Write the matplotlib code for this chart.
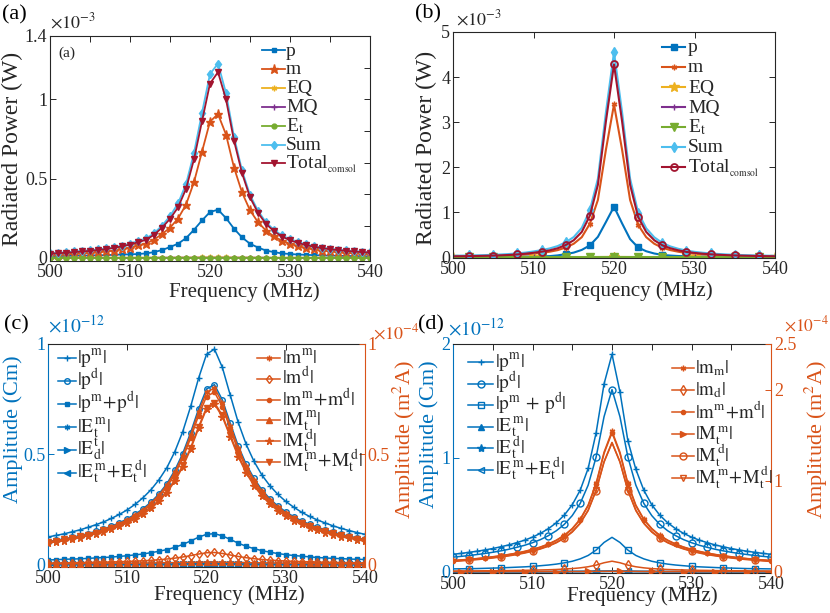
import matplotlib
matplotlib.use('Agg')
import matplotlib.pyplot as plt
from matplotlib.lines import Line2D
from matplotlib.ticker import FuncFormatter

plt.rcParams['font.family'] = ['Liberation Serif', 'DejaVu Serif']
plt.rcParams['mathtext.fontset'] = 'stix'
plt.rcParams['xtick.direction'] = 'in'
plt.rcParams['ytick.direction'] = 'in'
plt.rcParams['axes.linewidth'] = 0.8

# ---------------- data ----------------
freq = [500, 501, 502, 503, 504, 505, 506, 507, 508, 509, 510, 511, 512, 513, 514, 515, 516, 517, 518, 519, 520,
        521, 522, 523, 524, 525, 526, 527, 528, 529, 530, 531, 532, 533, 534, 535, 536, 537, 538, 539, 540]

# panel (a), radiated power x1e-3 W
p_a = [0.010, 0.011, 0.012, 0.013, 0.014, 0.015, 0.016, 0.017, 0.019, 0.021, 0.022, 0.024, 0.028, 0.036, 0.049, 0.068, 0.089, 0.124, 0.177, 0.236, 0.289,
       0.304, 0.251, 0.184, 0.129, 0.089, 0.065, 0.046, 0.036, 0.028, 0.024, 0.021, 0.019, 0.017, 0.015, 0.014, 0.013, 0.012, 0.011, 0.010, 0.010]
m_a = [0.018, 0.020, 0.022, 0.025, 0.028, 0.031, 0.035, 0.040, 0.046, 0.054, 0.065, 0.078, 0.090, 0.115, 0.150, 0.190, 0.248, 0.335, 0.478, 0.670, 0.860,
       0.907, 0.778, 0.570, 0.413, 0.300, 0.225, 0.172, 0.135, 0.108, 0.089, 0.074, 0.062, 0.053, 0.046, 0.040, 0.035, 0.031, 0.028, 0.025, 0.022]
eq_a = [0.001, 0.001, 0.001, 0.001, 0.001, 0.001, 0.001, 0.001, 0.001, 0.001, 0.001, 0.001, 0.001, 0.001, 0.001, 0.001, 0.002, 0.002, 0.002, 0.003, 0.003,
        0.003, 0.003, 0.002, 0.002, 0.002, 0.001, 0.001, 0.001, 0.001, 0.001, 0.001, 0.001, 0.001, 0.001, 0.001, 0.001, 0.001, 0.001, 0.001, 0.001]
mq_a = [0.000, 0.000, 0.000, 0.000, 0.000, 0.000, 0.000, 0.000, 0.000, 0.000, 0.000, 0.000, 0.000, 0.001, 0.001, 0.001, 0.001, 0.001, 0.001, 0.001, 0.001,
        0.001, 0.001, 0.001, 0.001, 0.001, 0.001, 0.001, 0.000, 0.000, 0.000, 0.000, 0.000, 0.000, 0.000, 0.000, 0.000, 0.000, 0.000, 0.000, 0.000]
et_a = [0.000, 0.000, 0.000, 0.000, 0.000, 0.000, 0.000, 0.000, 0.000, 0.000, 0.000, 0.000, 0.000, 0.000, 0.000, 0.000, 0.000, 0.000, 0.000, 0.000, 0.000,
        0.000, 0.000, 0.000, 0.000, 0.000, 0.000, 0.000, 0.000, 0.000, 0.000, 0.000, 0.000, 0.000, 0.000, 0.000, 0.000, 0.000, 0.000, 0.000, 0.000]
sum_a = [0.030, 0.033, 0.036, 0.040, 0.044, 0.048, 0.053, 0.059, 0.067, 0.077, 0.090, 0.105, 0.122, 0.155, 0.203, 0.263, 0.343, 0.465, 0.662, 0.915, 1.160,
         1.226, 1.040, 0.765, 0.552, 0.397, 0.297, 0.224, 0.177, 0.141, 0.117, 0.099, 0.085, 0.074, 0.065, 0.058, 0.052, 0.047, 0.043, 0.039, 0.036]
tot_a = [0.026, 0.029, 0.032, 0.036, 0.040, 0.044, 0.049, 0.055, 0.063, 0.072, 0.084, 0.098, 0.114, 0.145, 0.190, 0.246, 0.318, 0.435, 0.622, 0.862, 1.100,
         1.172, 1.000, 0.740, 0.535, 0.382, 0.284, 0.214, 0.168, 0.134, 0.111, 0.094, 0.080, 0.070, 0.061, 0.054, 0.049, 0.044, 0.040, 0.036, 0.033]

# panel (b), radiated power x1e-3 W
p_b = [0.002, 0.002, 0.003, 0.003, 0.004, 0.005, 0.006, 0.007, 0.009, 0.011, 0.013, 0.016, 0.022, 0.038, 0.066, 0.100, 0.160, 0.260, 0.450, 0.780, 1.120,
       0.750, 0.400, 0.214, 0.130, 0.080, 0.050, 0.034, 0.024, 0.018, 0.014, 0.011, 0.009, 0.008, 0.007, 0.006, 0.005, 0.004, 0.004, 0.003, 0.003]
m_b = [0.014, 0.016, 0.018, 0.020, 0.023, 0.027, 0.032, 0.038, 0.047, 0.060, 0.076, 0.095, 0.119, 0.155, 0.212, 0.297, 0.443, 0.740, 1.270, 2.390, 3.390,
       2.390, 1.270, 0.716, 0.443, 0.297, 0.208, 0.155, 0.119, 0.091, 0.074, 0.060, 0.049, 0.041, 0.035, 0.029, 0.025, 0.022, 0.019, 0.017, 0.015]
eq_b = [0.000, 0.000, 0.000, 0.000, 0.000, 0.000, 0.000, 0.000, 0.000, 0.000, 0.000, 0.000, 0.000, 0.000, 0.000, 0.001, 0.001, 0.001, 0.002, 0.003, 0.004,
        0.003, 0.002, 0.001, 0.001, 0.001, 0.000, 0.000, 0.000, 0.000, 0.000, 0.000, 0.000, 0.000, 0.000, 0.000, 0.000, 0.000, 0.000, 0.000, 0.000]
mq_b = [0.000, 0.000, 0.000, 0.000, 0.000, 0.000, 0.000, 0.000, 0.000, 0.000, 0.000, 0.000, 0.000, 0.000, 0.000, 0.000, 0.000, 0.000, 0.001, 0.001, 0.001,
        0.001, 0.001, 0.000, 0.000, 0.000, 0.000, 0.000, 0.000, 0.000, 0.000, 0.000, 0.000, 0.000, 0.000, 0.000, 0.000, 0.000, 0.000, 0.000, 0.000]
et_b = [0.000, 0.000, 0.000, 0.000, 0.000, 0.000, 0.000, 0.000, 0.000, 0.000, 0.000, 0.000, 0.000, 0.000, 0.000, 0.000, 0.000, 0.000, 0.000, 0.000, 0.000,
        0.000, 0.000, 0.000, 0.000, 0.000, 0.000, 0.000, 0.000, 0.000, 0.000, 0.000, 0.000, 0.000, 0.000, 0.000, 0.000, 0.000, 0.000, 0.000, 0.000]
sum_b = [0.030, 0.033, 0.036, 0.040, 0.045, 0.051, 0.059, 0.069, 0.083, 0.100, 0.125, 0.155, 0.192, 0.245, 0.330, 0.445, 0.650, 1.040, 1.740, 3.220, 4.550,
         3.220, 1.740, 0.990, 0.640, 0.440, 0.315, 0.237, 0.184, 0.145, 0.117, 0.097, 0.081, 0.069, 0.059, 0.051, 0.045, 0.040, 0.036, 0.032, 0.029]
tot_b = [0.018, 0.020, 0.022, 0.025, 0.029, 0.034, 0.040, 0.048, 0.060, 0.076, 0.096, 0.120, 0.150, 0.196, 0.268, 0.375, 0.560, 0.920, 1.606, 3.020, 4.280,
         3.020, 1.606, 0.890, 0.559, 0.375, 0.262, 0.196, 0.150, 0.115, 0.093, 0.076, 0.062, 0.052, 0.044, 0.037, 0.032, 0.028, 0.024, 0.021, 0.019]

# panel (c): electric amplitudes x1e-12 Cm, magnetic amplitudes x1e-4 m^2A
pm_c = [0.126, 0.133, 0.140, 0.149, 0.158, 0.169, 0.181, 0.194, 0.210, 0.228, 0.249, 0.274, 0.304, 0.340, 0.385, 0.440, 0.512, 0.603, 0.717, 0.845, 0.953,
        0.977, 0.894, 0.768, 0.645, 0.546, 0.468, 0.406, 0.358, 0.319, 0.287, 0.261, 0.238, 0.219, 0.203, 0.189, 0.176, 0.165, 0.155, 0.146, 0.138]
pd_c = [0.105, 0.111, 0.117, 0.124, 0.132, 0.141, 0.151, 0.162, 0.175, 0.190, 0.208, 0.229, 0.254, 0.284, 0.321, 0.367, 0.428, 0.504, 0.599, 0.706, 0.796,
        0.816, 0.747, 0.641, 0.539, 0.456, 0.391, 0.339, 0.299, 0.266, 0.240, 0.218, 0.199, 0.183, 0.170, 0.158, 0.147, 0.138, 0.129, 0.122, 0.115]
pmd_c = [0.022, 0.023, 0.025, 0.026, 0.027, 0.029, 0.031, 0.033, 0.035, 0.038, 0.041, 0.045, 0.049, 0.055, 0.061, 0.069, 0.079, 0.092, 0.108, 0.125, 0.138,
         0.141, 0.131, 0.115, 0.098, 0.084, 0.073, 0.064, 0.057, 0.051, 0.046, 0.042, 0.039, 0.036, 0.033, 0.031, 0.029, 0.028, 0.026, 0.025, 0.024]
etm_c = [0.002, 0.002, 0.002, 0.002, 0.002, 0.002, 0.002, 0.002, 0.002, 0.002, 0.002, 0.002, 0.002, 0.002, 0.002, 0.002, 0.002, 0.003, 0.003, 0.003, 0.003,
         0.003, 0.003, 0.003, 0.003, 0.002, 0.002, 0.002, 0.002, 0.002, 0.002, 0.002, 0.002, 0.002, 0.002, 0.002, 0.002, 0.002, 0.002, 0.002, 0.002]
etd_c = [0.001, 0.001, 0.001, 0.001, 0.001, 0.001, 0.001, 0.001, 0.001, 0.001, 0.001, 0.001, 0.001, 0.001, 0.001, 0.001, 0.001, 0.002, 0.002, 0.002, 0.002,
         0.002, 0.002, 0.002, 0.002, 0.001, 0.001, 0.001, 0.001, 0.001, 0.001, 0.001, 0.001, 0.001, 0.001, 0.001, 0.001, 0.001, 0.001, 0.001, 0.001]
etmd_c = [0.002, 0.002, 0.002, 0.002, 0.002, 0.002, 0.002, 0.002, 0.002, 0.002, 0.002, 0.002, 0.002, 0.002, 0.003, 0.003, 0.003, 0.003, 0.004, 0.004, 0.004,
          0.004, 0.004, 0.004, 0.003, 0.003, 0.003, 0.003, 0.002, 0.002, 0.002, 0.002, 0.002, 0.002, 0.002, 0.002, 0.002, 0.002, 0.002, 0.002, 0.002]
mm_c = [0.103, 0.109, 0.115, 0.122, 0.130, 0.139, 0.148, 0.159, 0.172, 0.187, 0.204, 0.225, 0.249, 0.279, 0.316, 0.361, 0.420, 0.494, 0.588, 0.693, 0.781,
        0.801, 0.733, 0.630, 0.529, 0.448, 0.384, 0.333, 0.294, 0.262, 0.235, 0.214, 0.195, 0.180, 0.166, 0.155, 0.144, 0.135, 0.127, 0.120, 0.113]
md_c = [0.0080, 0.0084, 0.0089, 0.0094, 0.0099, 0.0105, 0.0112, 0.0120, 0.0129, 0.0139, 0.0151, 0.0166, 0.0182, 0.0203, 0.0229, 0.0261, 0.0301, 0.0353, 0.0416, 0.0487, 0.0545,
        0.0557, 0.0514, 0.0444, 0.0377, 0.0321, 0.0276, 0.0241, 0.0213, 0.0190, 0.0172, 0.0157, 0.0144, 0.0133, 0.0123, 0.0115, 0.0108, 0.0101, 0.0096, 0.0091, 0.0086]
mmd_c = [0.100, 0.106, 0.112, 0.119, 0.126, 0.135, 0.144, 0.155, 0.167, 0.182, 0.199, 0.219, 0.243, 0.272, 0.308, 0.352, 0.410, 0.482, 0.574, 0.676, 0.762,
         0.782, 0.716, 0.615, 0.516, 0.437, 0.375, 0.325, 0.287, 0.255, 0.229, 0.209, 0.190, 0.175, 0.162, 0.151, 0.141, 0.132, 0.124, 0.117, 0.110]
mtm_c = [0.005, 0.005, 0.005, 0.005, 0.005, 0.006, 0.006, 0.006, 0.006, 0.007, 0.007, 0.007, 0.008, 0.008, 0.009, 0.009, 0.010, 0.011, 0.011, 0.012, 0.012,
         0.012, 0.012, 0.011, 0.011, 0.010, 0.009, 0.009, 0.008, 0.008, 0.007, 0.007, 0.007, 0.006, 0.006, 0.006, 0.006, 0.005, 0.005, 0.005, 0.005]
mtd_c = [0.098, 0.104, 0.110, 0.116, 0.123, 0.131, 0.140, 0.150, 0.161, 0.174, 0.189, 0.207, 0.229, 0.255, 0.287, 0.327, 0.378, 0.443, 0.524, 0.618, 0.705,
         0.728, 0.670, 0.580, 0.490, 0.416, 0.358, 0.311, 0.275, 0.245, 0.220, 0.200, 0.183, 0.168, 0.156, 0.145, 0.136, 0.127, 0.120, 0.113, 0.107]
mtmd_c = [0.103, 0.109, 0.115, 0.122, 0.129, 0.137, 0.146, 0.156, 0.167, 0.180, 0.195, 0.213, 0.235, 0.261, 0.293, 0.334, 0.385, 0.450, 0.531, 0.625, 0.712,
          0.735, 0.677, 0.587, 0.497, 0.423, 0.365, 0.318, 0.282, 0.252, 0.227, 0.207, 0.190, 0.175, 0.163, 0.152, 0.142, 0.133, 0.126, 0.119, 0.113]

# panel (d)
pm_d = [0.154, 0.162, 0.171, 0.181, 0.192, 0.205, 0.220, 0.236, 0.256, 0.278, 0.305, 0.338, 0.379, 0.431, 0.498, 0.589, 0.717, 0.908, 1.220, 1.650, 1.910,
        1.580, 1.150, 0.900, 0.717, 0.589, 0.498, 0.431, 0.379, 0.338, 0.305, 0.278, 0.256, 0.236, 0.220, 0.205, 0.192, 0.181, 0.171, 0.162, 0.154]
pd_d = [0.129, 0.136, 0.143, 0.152, 0.161, 0.172, 0.184, 0.198, 0.215, 0.233, 0.256, 0.283, 0.318, 0.361, 0.417, 0.494, 0.601, 0.761, 1.007, 1.362, 1.600,
        1.362, 1.007, 0.761, 0.601, 0.494, 0.417, 0.361, 0.318, 0.283, 0.256, 0.233, 0.215, 0.198, 0.184, 0.172, 0.161, 0.152, 0.143, 0.136, 0.129]
pmd_d = [0.026, 0.027, 0.028, 0.029, 0.031, 0.033, 0.035, 0.038, 0.041, 0.044, 0.048, 0.054, 0.060, 0.068, 0.079, 0.093, 0.114, 0.144, 0.191, 0.258, 0.303,
         0.258, 0.191, 0.144, 0.114, 0.093, 0.079, 0.068, 0.060, 0.054, 0.048, 0.044, 0.041, 0.038, 0.035, 0.033, 0.031, 0.029, 0.028, 0.027, 0.026]
etm_d = [0.002, 0.002, 0.002, 0.002, 0.002, 0.002, 0.002, 0.002, 0.002, 0.002, 0.002, 0.002, 0.002, 0.002, 0.002, 0.003, 0.003, 0.003, 0.004, 0.004, 0.005,
         0.004, 0.004, 0.003, 0.003, 0.003, 0.002, 0.002, 0.002, 0.002, 0.002, 0.002, 0.002, 0.002, 0.002, 0.002, 0.002, 0.002, 0.002, 0.002, 0.002]
etd_d = [0.001, 0.001, 0.001, 0.001, 0.001, 0.001, 0.001, 0.001, 0.001, 0.001, 0.001, 0.001, 0.001, 0.001, 0.001, 0.002, 0.002, 0.002, 0.003, 0.003, 0.004,
         0.003, 0.003, 0.002, 0.002, 0.002, 0.001, 0.001, 0.001, 0.001, 0.001, 0.001, 0.001, 0.001, 0.001, 0.001, 0.001, 0.001, 0.001, 0.001, 0.001]
etmd_d = [0.002, 0.002, 0.002, 0.002, 0.002, 0.002, 0.002, 0.002, 0.002, 0.002, 0.002, 0.002, 0.003, 0.003, 0.003, 0.004, 0.004, 0.005, 0.006, 0.007, 0.008,
          0.007, 0.006, 0.005, 0.004, 0.004, 0.003, 0.003, 0.003, 0.002, 0.002, 0.002, 0.002, 0.002, 0.002, 0.002, 0.002, 0.002, 0.002, 0.002, 0.002]
mm_d = [0.125, 0.131, 0.138, 0.146, 0.155, 0.166, 0.177, 0.191, 0.206, 0.225, 0.247, 0.273, 0.306, 0.348, 0.402, 0.476, 0.579, 0.733, 0.971, 1.313, 1.543,
        1.313, 0.971, 0.733, 0.579, 0.476, 0.402, 0.348, 0.306, 0.273, 0.247, 0.225, 0.206, 0.191, 0.177, 0.166, 0.155, 0.146, 0.138, 0.131, 0.125]
md_d = [0.009, 0.010, 0.010, 0.011, 0.012, 0.013, 0.013, 0.014, 0.016, 0.017, 0.019, 0.021, 0.023, 0.026, 0.031, 0.036, 0.044, 0.056, 0.074, 0.100, 0.117,
        0.100, 0.074, 0.056, 0.044, 0.036, 0.031, 0.026, 0.023, 0.021, 0.019, 0.017, 0.016, 0.014, 0.013, 0.013, 0.012, 0.011, 0.010, 0.010, 0.009]
mmd_d = [0.123, 0.129, 0.136, 0.144, 0.153, 0.164, 0.175, 0.189, 0.204, 0.222, 0.244, 0.270, 0.302, 0.344, 0.397, 0.470, 0.572, 0.724, 0.960, 1.298, 1.527,
         1.298, 0.960, 0.724, 0.572, 0.470, 0.397, 0.344, 0.302, 0.270, 0.244, 0.222, 0.204, 0.189, 0.175, 0.164, 0.153, 0.144, 0.136, 0.129, 0.123]
mtm_d = [0.003, 0.003, 0.003, 0.003, 0.003, 0.003, 0.003, 0.003, 0.003, 0.003, 0.003, 0.003, 0.003, 0.003, 0.004, 0.004, 0.004, 0.005, 0.005, 0.006, 0.006,
         0.006, 0.005, 0.005, 0.004, 0.004, 0.004, 0.003, 0.003, 0.003, 0.003, 0.003, 0.003, 0.003, 0.003, 0.003, 0.003, 0.003, 0.003, 0.003, 0.003]
mtd_d = [0.114, 0.120, 0.127, 0.134, 0.142, 0.152, 0.163, 0.175, 0.189, 0.206, 0.226, 0.251, 0.281, 0.319, 0.369, 0.436, 0.531, 0.672, 0.891, 1.204, 1.415,
         1.204, 0.891, 0.672, 0.531, 0.436, 0.369, 0.319, 0.281, 0.251, 0.226, 0.206, 0.189, 0.175, 0.163, 0.152, 0.142, 0.134, 0.127, 0.120, 0.114]
mtmd_d = [0.119, 0.125, 0.132, 0.139, 0.147, 0.157, 0.168, 0.180, 0.194, 0.211, 0.231, 0.256, 0.286, 0.324, 0.374, 0.441, 0.536, 0.677, 0.896, 1.209, 1.420,
          1.209, 0.896, 0.677, 0.536, 0.441, 0.374, 0.324, 0.286, 0.256, 0.231, 0.211, 0.194, 0.180, 0.168, 0.157, 0.147, 0.139, 0.132, 0.125, 0.119]

labels_a = ['p', 'm', 'EQ', 'MQ', r'E$_{\mathrm{t}}$', 'Sum', r'Total$_{{}_{\mathrm{comsol}}}$']
labels_c_left = [r'$|\mathrm{p}^{\mathrm{m}}|$', r'$|\mathrm{p}^{\mathrm{d}}|$', r'$|\mathrm{p}^{\mathrm{m}}\!+\!\mathrm{p}^{\mathrm{d}}|$',
                 r'$|\mathrm{E}_{\mathrm{t}}^{\,\mathrm{m}}|$', r'$|\mathrm{E}^{\mathrm{t}}_{\mathrm{d}}|$',
                 r'$|\mathrm{E}_{\mathrm{t}}^{\,\mathrm{m}}\!+\!\mathrm{E}_{\mathrm{t}}^{\,\mathrm{d}}|$']
labels_c_right = [r'$|\mathrm{m}^{\mathrm{m}}|$', r'$|\mathrm{m}^{\mathrm{d}}|$', r'$|\mathrm{m}^{\mathrm{m}}\!+\!\mathrm{m}^{\mathrm{d}}|$',
                  r'$|\mathrm{M}_{\mathrm{t}}^{\,\mathrm{m}}|$', r'$|\mathrm{M}_{\mathrm{t}}^{\,\mathrm{d}}|$',
                  r'$|\mathrm{M}_{\mathrm{t}}^{\,\mathrm{m}}\!+\!\mathrm{M}_{\mathrm{t}}^{\,\mathrm{d}}|$']
labels_d_left = [r'$|\mathrm{p}^{\mathrm{m}}|$', r'$|\mathrm{p}^{\mathrm{d}}|$', r'$|\mathrm{p}^{\mathrm{m}}\,+\,\mathrm{p}^{\mathrm{d}}|$',
                 r'$|\mathrm{E}_{\mathrm{t}}^{\,\mathrm{m}}|$', r'$|\mathrm{E}_{\mathrm{t}}^{\,\mathrm{d}}|$',
                 r'$|\mathrm{E}_{\mathrm{t}}^{\,\mathrm{m}}\!+\!\mathrm{E}_{\mathrm{t}}^{\,\mathrm{d}}|$']
labels_d_right = [r'$|\mathrm{m}_{\mathrm{m}}|$', r'$|\mathrm{m}_{\mathrm{d}}|$', r'$|\mathrm{m}^{\mathrm{m}}\!+\!\mathrm{m}^{\mathrm{d}}|$',
                  r'$|\mathrm{M}_{\mathrm{t}}^{\,\mathrm{m}}|$', r'$|\mathrm{M}_{\mathrm{t}}^{\,\mathrm{d}}|$',
                  r'$|\mathrm{M}_{\mathrm{t}}^{\,\mathrm{m}}\!+\!\mathrm{M}_{\mathrm{t}}^{\,\mathrm{d}}|$']

# ---------------- style ----------------
BLUE = '#0072BD'; ORANGE = '#D95319'; YELLOW = '#EDB120'; PURPLE = '#7E2F8E'
GREEN = '#77AC30'; LBLUE = '#4DBEEE'; DRED = '#A2142F'; TXT = '#262626'
AST = (6, 2, 0)

W, H = 830, 613
fig = plt.figure(figsize=(8.3, 6.13), dpi=100)


def add_ax(l, t, r, b):
    return fig.add_axes([l / W, 1 - b / H, (r - l) / W, (b - t) / H])


def fmt(v, pos):
    return '%g' % v


def series(ax, y, color, marker, ms, face=None, lw=1.3, every=None, mew=1.0, z=2):
    fc = color if face is None else face
    ax.plot(freq, y, color=color, marker=marker, markersize=ms, markerfacecolor=fc,
            markeredgecolor=color, lw=lw, markevery=every, mew=mew, zorder=z)
    return dict(color=color, marker=marker, ms=ms, fc=fc, lw=lw, mew=mew)


def legend(styles, labels, xh, xt, y0, dy, fs, hl, boff=5.5):
    """Legend rows drawn at fixed pixel positions (handle line + marker + text)."""
    for i, (st, lab) in enumerate(zip(styles, labels)):
        yc = y0 + i * dy
        yf = 1 - yc / H
        fig.add_artist(Line2D([xh / W, (xh + hl) / W], [yf, yf], transform=fig.transFigure,
                              color=st['color'], lw=st['lw']))
        fig.add_artist(Line2D([(xh + hl / 2) / W], [yf], transform=fig.transFigure, linestyle='none',
                              color=st['color'], marker=st['marker'], markersize=st['ms'],
                              markerfacecolor=st['fc'], markeredgecolor=st['color'], mew=st['mew']))
        fig.text(xt / W, 1 - (yc + boff) / H, lab, fontsize=fs, va='baseline', ha='left', color=TXT)


def style_common(ax):
    ax.tick_params(labelsize=13, length=4, width=0.7, pad=2, colors=TXT)
    for s in ax.spines.values():
        s.set_color(TXT)


# ---------------- panel (a) ----------------
ax = add_ax(50, 36, 370, 261)
h = []
h.append(series(ax, p_a, BLUE, 's', 3.5))
h.append(series(ax, m_a, ORANGE, '*', 6.5))
h.append(series(ax, eq_a, YELLOW, AST, 4))
h.append(series(ax, mq_a, PURPLE, '+', 4))
h.append(series(ax, et_a, GREEN, 'o', 3.5))
h.append(series(ax, sum_a, LBLUE, 'd', 4.5))
h.append(series(ax, tot_a, DRED, 'v', 5))
ax.set_xlim(500, 540)
ax.set_ylim(-0.02, 1.4)
ax.set_xticks([500, 510, 520, 530, 540])
ax.set_yticks([0, 0.5, 1, 1.4])
ax.yaxis.set_major_formatter(FuncFormatter(fmt))
style_common(ax)
ax.tick_params(top=False, right=False)
ax.set_xlabel('Frequency (MHz)', fontsize=15, color=TXT)
ax.set_ylabel('Radiated Power (W)', fontsize=17, color=TXT)
ax.xaxis.set_label_coords(0.606, -0.095)
ax.yaxis.set_label_coords(-0.085, 0.5)
axr = ax.twinx()
axr.set_ylim(-0.02, 1.4)
axr.set_yticks([0.2, 0.4, 0.6, 0.8, 1.0, 1.2])
axr.set_yticklabels([])
axr.tick_params(length=4, width=0.7, colors=TXT)
axt = ax.twiny()
axt.set_xlim(500, 540)
axt.set_xticks([505, 510, 515, 520, 525, 530, 535])
axt.set_xticklabels([])
axt.tick_params(length=4, width=0.7, colors=TXT)
for a in (axr, axt):
    a.set_frame_on(False)
ax.text(0.025, 0.955, '(a)', transform=ax.transAxes, fontsize=11, va='top', ha='left', color=TXT)
legend(h, labels_a, 262, 286, 50, 18.9, 14, 23)
fig.text(50 / W, 1 - 28 / H, r'$\times10^{-3}$', fontsize=13, color=TXT, va='baseline')
fig.text(2 / W, 1 - 15 / H, '(a)', fontsize=16, va='center', color='black')

# ---------------- panel (b) ----------------
ax = add_ax(453, 32, 775, 258)
h = []
h.append(series(ax, p_b, BLUE, 's', 4.5, every=(2, 3), lw=1.5))
h.append(series(ax, m_b, ORANGE, AST, 4, every=(2, 3), lw=1.5))
h.append(series(ax, eq_b, YELLOW, '*', 7, every=10, lw=1.5))
h.append(series(ax, mq_b, PURPLE, '+', 5, every=10, lw=1.5))
h.append(series(ax, et_b, GREEN, 'v', 5.5, every=(2, 3), lw=1.5))
h.append(series(ax, sum_b, LBLUE, 'd', 5, every=(2, 3), lw=1.5))
h.append(series(ax, tot_b, DRED, 'o', 5, face='none', every=(2, 3), lw=1.5, mew=1.3))
ax.set_xlim(500, 540)
ax.set_ylim(-0.02, 5)
ax.set_xticks([500, 510, 520, 530, 540])
ax.set_yticks([0, 1, 2, 3, 4, 5])
ax.yaxis.set_major_formatter(FuncFormatter(fmt))
style_common(ax)
ax.tick_params(top=True, right=True)
ax.set_xlabel('Frequency (MHz)', fontsize=15, color=TXT)
ax.set_ylabel('Radiated Power (W)', fontsize=17, color=TXT)
ax.xaxis.set_label_coords(0.571, -0.105)
ax.yaxis.set_label_coords(-0.05, 0.487)
legend(h, labels_a, 662, 688, 47, 20, 14, 23)
fig.text(456 / W, 1 - 25 / H, r'$\times10^{-3}$', fontsize=13, color=TXT, va='baseline')
fig.text(415 / W, 1 - 14 / H, '(b)', fontsize=16, va='center', color='black')

# ---------------- panel (c) ----------------
ax = add_ax(48, 344, 365, 567)
h1 = []
h1.append(series(ax, pm_c, BLUE, '+', 4.5, lw=1.1))
h1.append(series(ax, pd_c, BLUE, 'o', 4, face='none', lw=1.1))
h1.append(series(ax, pmd_c, BLUE, 's', 3.5, lw=1.1))
h1.append(series(ax, etm_c, BLUE, AST, 4, lw=1.1))
h1.append(series(ax, etd_c, BLUE, '>', 4, lw=1.1))
h1.append(series(ax, etmd_c, BLUE, '<', 4, lw=1.1))
ax.set_xlim(500, 540)
ax.set_ylim(-0.01, 1)
ax.set_xticks([500, 510, 520, 530, 540])
ax.set_yticks([0, 0.5, 1])
ax.yaxis.set_major_formatter(FuncFormatter(fmt))
style_common(ax)
ax.tick_params(top=True, right=False)
ax.tick_params(axis='y', colors=BLUE)
ax.spines['left'].set_color(BLUE)
ax.spines['right'].set_visible(False)
ax.set_xlabel('Frequency (MHz)', fontsize=15, color=TXT)
ax.set_ylabel('Amplitude (Cm)', fontsize=16, color=BLUE)
ax.xaxis.set_label_coords(0.571, -0.08)
ax.yaxis.set_label_coords(-0.08, 0.62)
ax2 = ax.twinx()
h2 = []
h2.append(series(ax2, mm_c, ORANGE, AST, 4, lw=1.1))
h2.append(series(ax2, md_c, ORANGE, 'd', 4.5, face='none', lw=1.1))
h2.append(series(ax2, mmd_c, ORANGE, '.', 6, lw=1.1))
h2.append(series(ax2, mtm_c, ORANGE, '^', 4.5, lw=1.1))
h2.append(series(ax2, mtd_c, ORANGE, '*', 5.5, lw=1.1))
h2.append(series(ax2, mtmd_c, ORANGE, 'v', 4.5, lw=1.1))
ax2.set_ylim(-0.01, 1)
ax2.set_yticks([0, 0.5, 1])
ax2.yaxis.set_major_formatter(FuncFormatter(fmt))
ax2.tick_params(labelsize=13, length=4, width=0.7, pad=2, colors=ORANGE)
for k in ('left', 'top', 'bottom'):
    ax2.spines[k].set_visible(False)
ax2.spines['right'].set_color(ORANGE)
ax2.set_ylabel('Amplitude (m$^2$A)', fontsize=16, color=ORANGE)
ax2.yaxis.set_label_coords(1.08, 0.57)
legend(h1, labels_c_left, 58, 77, 358, 23, 14, 18)
legend(h2, labels_c_right, 257, 282, 358, 20.8, 14, 23)
fig.text(48 / W, 1 - 332 / H, r'$\times10^{-12}$', fontsize=14, color=BLUE, va='baseline')
fig.text(373 / W, 1 - 339 / H, r'$\times10^{-4}$', fontsize=13, color=ORANGE, va='baseline')
fig.text(4 / W, 1 - 325 / H, '(c)', fontsize=16, va='center', color='black')

# ---------------- panel (d) ----------------
ax = add_ax(453, 344, 771, 573)
h1 = []
h1.append(series(ax, pm_d, BLUE, '+', 5, lw=1.1))
h1.append(series(ax, pd_d, BLUE, 'o', 5, face='none', every=2, lw=1.1))
h1.append(series(ax, pmd_d, BLUE, 's', 4, face='none', every=(2, 4), lw=1.1))
h1.append(series(ax, etm_d, BLUE, '^', 5, every=(2, 4), lw=1.1))
h1.append(series(ax, etd_d, BLUE, '*', 6, every=(2, 4), lw=1.1))
h1.append(series(ax, etmd_d, BLUE, '<', 5, face='none', every=(2, 4), lw=1.1))
ax.set_xlim(500, 540)
ax.set_ylim(-0.01, 2)
ax.set_xticks([500, 510, 520, 530, 540])
ax.set_xticks([505, 515, 525, 535], minor=True)
ax.set_yticks([0, 1, 2])
ax.yaxis.set_major_formatter(FuncFormatter(fmt))
style_common(ax)
ax.tick_params(which='minor', axis='x', length=4, width=0.7, top=True, bottom=True, colors=TXT)
ax.tick_params(top=True, right=False)
ax.tick_params(axis='y', colors=BLUE)
ax.spines['left'].set_color(BLUE)
ax.spines['right'].set_visible(False)
ax.set_xlabel('Frequency (MHz)', fontsize=15, color=TXT)
ax.set_ylabel('Amplitude (Cm)', fontsize=16, color=BLUE)
ax.xaxis.set_label_coords(0.594, -0.06)
ax.yaxis.set_label_coords(-0.045, 0.605)
ax2 = ax.twinx()
h2 = []
h2.append(series(ax2, mm_d, ORANGE, AST, 4, every=2, lw=1.1))
h2.append(series(ax2, md_d, ORANGE, 'd', 5, face='none', every=(2, 4), lw=1.1))
h2.append(series(ax2, mmd_d, ORANGE, '.', 6, every=2, lw=1.1))
h2.append(series(ax2, mtm_d, ORANGE, '>', 5, every=(1, 4), lw=1.1))
h2.append(series(ax2, mtd_d, ORANGE, 'o', 5, face='none', every=(2, 4), lw=1.1))
h2.append(series(ax2, mtmd_d, ORANGE, 'v', 5, face='none', every=(2, 4), lw=1.1))
ax2.set_ylim(-0.0125, 2.5)
ax2.set_yticks([0, 1, 2, 2.5])
ax2.yaxis.set_major_formatter(FuncFormatter(fmt))
ax2.tick_params(labelsize=13, length=4, width=0.7, pad=2, colors=ORANGE)
for k in ('left', 'top', 'bottom'):
    ax2.spines[k].set_visible(False)
ax2.spines['right'].set_color(ORANGE)
ax2.set_ylabel('Amplitude (m$^2$A)', fontsize=16, color=ORANGE)
ax2.yaxis.set_label_coords(1.10, 0.583)
legend(h1, labels_d_left, 468, 495, 362, 21.6, 14, 25)
legend(h2, labels_d_right, 672, 695, 368, 22, 13.5, 22)
fig.text(448 / W, 1 - 335 / H, r'$\times10^{-12}$', fontsize=14, color=BLUE, va='baseline')
fig.text(784 / W, 1 - 331 / H, r'$\times10^{-4}$', fontsize=12.5, color=ORANGE, va='baseline')
fig.text(418 / W, 1 - 325 / H, '(d)', fontsize=16, va='center', color='black')

fig.savefig('out.png', dpi=100)
